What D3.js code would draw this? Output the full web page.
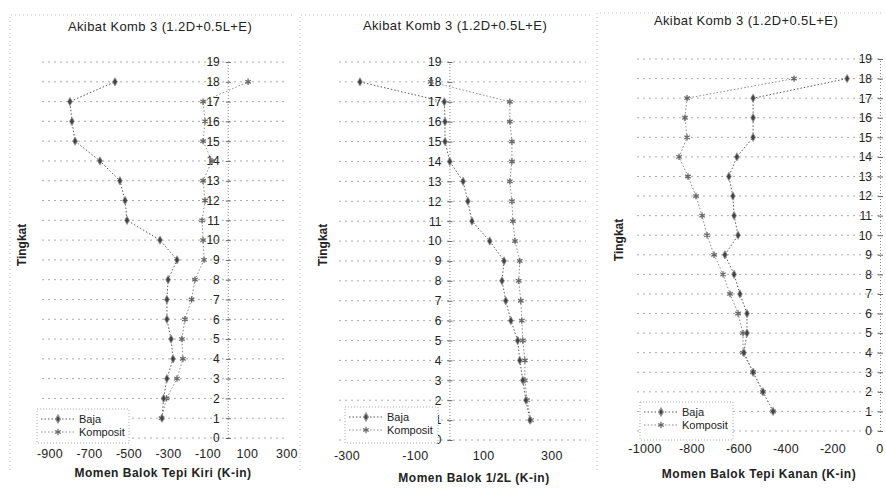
<!DOCTYPE html>
<html>
<head>
<meta charset="utf-8">
<script src="https://cdn.jsdelivr.net/npm/d3@7"></script>
<style>
  body { margin: 0; background: #fff; }
  text { font-family: "Liberation Sans", Arial, sans-serif; fill: #222; }
</style>
</head>
<body>
<div id="chart"></div>
<script>
var width = 886,
  height = 490;

// lantai 1..18
var floors = [1, 2, 3, 4, 5, 6, 7, 8, 9, 10, 11, 12, 13, 14, 15, 16, 17, 18];
var yTicks = d3.range(0, 20);

var bajaKiri = [-333, -325, -308, -277, -287, -308, -308, -302, -257, -343, -510, -520, -546, -647, -773, -789, -799, -571];
var kompKiri = [-335, -310, -257, -227, -232, -217, -183, -166, -120, -125, -130, -115, -125, -80, -125, -115, -125, 103];

var bajaTengah = [236, 224, 215, 206, 200, 180, 165, 154, 160, 118, 66, 54, 40, 1, -13, -13, -15, -262];
var kompTengah = [239, 227, 221, 221, 215, 212, 209, 203, 206, 192, 186, 183, 177, 183, 183, 177, 177, -55];

var bajaKanan = [-455, -498, -540, -579, -566, -566, -596, -621, -660, -604, -621, -626, -643, -609, -540, -540, -540, -140];
var kompKanan = [-455, -498, -540, -583, -583, -604, -638, -668, -706, -736, -757, -783, -817, -855, -821, -830, -821, -366];

var ticksKiri = [-900, -700, -500, -300, -100, 100, 300];
var ticksTengah = [-300, -100, 100, 300];
var ticksKanan = [-1000, -800, -600, -400, -200, 0];

var chartTitle = "Akibat Komb 3 (1.2D+0.5L+E)";
var seriesNames = ["Baja", "Komposit"];

var panels = [
  { baja: bajaKiri, komp: kompKiri, ticks: ticksKiri, xDomain: [-900, 300], xRange: [50, 287],
    yRange: [438, 62], title: [160, 31], xTitle: "Momen Balok Tepi Kiri (K-in)", xTitlePos: [163, 477],
    tingkat: [26, 245], tickY: 458, legend: [37, 409, 92, 34], border: [10, 15, 293, 470] },
  { baja: bajaTengah, komp: kompTengah, ticks: ticksTengah, xDomain: [-300, 400], xRange: [347, 586],
    yRange: [440, 62], title: [455, 30], xTitle: "Momen Balok 1/2L (K-in)", xTitlePos: [474, 482],
    tingkat: [327, 245], tickY: 460, legend: [345, 407, 93, 36], border: [300, 15, 590, 470] },
  { baja: bajaKanan, komp: kompKanan, ticks: ticksKanan, xDomain: [-1000, 0], xRange: [645, 880],
    yRange: [431, 59], title: [746, 25], xTitle: "Momen Balok Tepi Kanan (K-in)", xTitlePos: [759, 478],
    tingkat: [623, 240], tickY: 453, legend: [640, 402, 93, 38], border: [597, 13, 884, 470] }
];

var svg = d3.select("#chart")
  .append("svg")
  .attr("width", width)
  .attr("height", height);

var bajaSym = d3.symbol().type(d3.symbolDiamond).size(20);
var kompSym = d3.symbol().type(d3.symbolAsterisk).size(28);

panels.forEach(function(p) {
  var g = svg.append("g");
  var x = d3.scaleLinear().domain(p.xDomain).range(p.xRange);
  var y = d3.scaleLinear().domain([0, 19]).range(p.yRange);

  // faint chart border (scan)
  g.append("path")
    .attr("d", "M" + p.border[0] + "," + p.border[3] + "V" + p.border[1] + "H" + p.border[2])
    .attr("fill", "none")
    .attr("stroke", "#bbb")
    .attr("stroke-width", 1)
    .attr("stroke-dasharray", "1,3");

  // horizontal gridlines
  g.selectAll(".grid")
    .data(yTicks)
    .enter()
    .append("line")
    .attr("x1", p.xRange[0] - 8)
    .attr("x2", x(p.xDomain[1]))
    .attr("y1", function(d) { return y(d); })
    .attr("y2", function(d) { return y(d); })
    .attr("stroke", "#aaa")
    .attr("stroke-width", 1)
    .attr("stroke-dasharray", "2,4");

  // vertical axis at x = 0
  var axis = d3.axisLeft(y).tickValues(yTicks).tickSize(-3).tickPadding(8).tickFormat(d3.format("d"));
  var ga = g.append("g")
    .attr("transform", "translate(" + x(0) + ",0)")
    .call(axis);
  ga.select(".domain").attr("stroke", "#888").attr("stroke-dasharray", "1,2");
  ga.selectAll(".tick line").attr("stroke", "#666").attr("x1", -2).attr("x2", 3);
  ga.selectAll(".tick text")
    .attr("font-size", 12)
    .attr("fill", "#333")
    .attr("font-family", "Liberation Sans, Arial, sans-serif");

  // x tick labels
  g.selectAll(".xt")
    .data(p.ticks)
    .enter()
    .append("text")
    .attr("x", function(d) { return x(d); })
    .attr("y", p.tickY)
    .attr("text-anchor", "middle")
    .attr("font-size", 12.5)
    .attr("letter-spacing", 0.3)
    .attr("fill", "#333")
    .text(function(d) { return d; });

  // series lines
  var line = d3.line()
    .x(function(d) { return x(d[1]); })
    .y(function(d) { return y(d[0]); });

  [[p.baja, "#555"], [p.komp, "#888"]].forEach(function(s) {
    g.append("path")
      .datum(floors.map(function(f, i) { return [f, s[0][i]]; }))
      .attr("fill", "none")
      .attr("stroke", s[1])
      .attr("stroke-width", 1)
      .attr("stroke-dasharray", "1.5,2")
      .attr("d", line);
  });

  // markers
  g.selectAll(".kp")
    .data(floors)
    .enter()
    .append("path")
    .attr("transform", function(d, i) { return "translate(" + x(p.komp[i]) + "," + y(d) + ")"; })
    .attr("d", kompSym)
    .attr("fill", "none")
    .attr("stroke", "#666")
    .attr("stroke-width", 1.3);

  g.selectAll(".bj")
    .data(floors)
    .enter()
    .append("path")
    .attr("transform", function(d, i) { return "translate(" + x(p.baja[i]) + "," + y(d) + ")"; })
    .attr("d", bajaSym)
    .attr("fill", "#444")
    .attr("stroke", "#999")
    .attr("stroke-width", 0.8);

  // legend
  var L = p.legend;
  var lg = g.append("g").attr("transform", "translate(" + L[0] + "," + L[1] + ")");
  lg.append("rect")
    .attr("width", L[2])
    .attr("height", L[3])
    .attr("fill", "#fff")
    .attr("stroke", "#aaa")
    .attr("stroke-dasharray", "1,2");
  seriesNames.forEach(function(name, i) {
    var ly = 10 + i * 13;
    lg.append("line")
      .attr("x1", 4).attr("x2", 38)
      .attr("y1", ly).attr("y2", ly)
      .attr("stroke", i == 0 ? "#555" : "#888")
      .attr("stroke-dasharray", "1.5,2");
    lg.append("path")
      .attr("transform", "translate(21," + ly + ")")
      .attr("d", i == 0 ? bajaSym : kompSym)
      .attr("fill", i == 0 ? "#444" : "none")
      .attr("stroke", i == 0 ? "#999" : "#666")
      .attr("stroke-width", 1.2);
    lg.append("text")
      .attr("x", 42)
      .attr("y", ly + 4)
      .attr("font-size", 11)
      .text(name);
  });

  // titles
  g.append("text")
    .attr("x", p.title[0])
    .attr("y", p.title[1])
    .attr("text-anchor", "middle")
    .attr("font-size", 13)
    .attr("letter-spacing", 0.4)
    .text(chartTitle);

  g.append("text")
    .attr("x", p.xTitlePos[0])
    .attr("y", p.xTitlePos[1])
    .attr("text-anchor", "middle")
    .attr("font-size", 12)
    .attr("font-weight", "bold")
    .attr("letter-spacing", 0.5)
    .text(p.xTitle);

  g.append("text")
    .attr("transform", "translate(" + p.tingkat[0] + "," + p.tingkat[1] + ") rotate(-90)")
    .attr("text-anchor", "middle")
    .attr("font-size", 12)
    .attr("font-weight", "bold")
    .text("Tingkat");
});
</script>
</body>
</html>
